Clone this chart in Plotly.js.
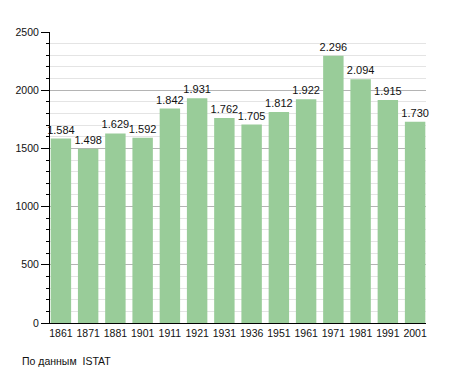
<!DOCTYPE html>
<html>
<head>
<meta charset="utf-8">
<script src="https://cdn.plot.ly/plotly-3.0.1.min.js"></script>
<style>html,body{margin:0;padding:0;background:#fff}#chart{width:455px;height:373px}</style>
</head>
<body>
<div id="chart"></div>
<script>
const years = ['1861','1871','1881','1901','1911','1921','1931','1936','1951','1961','1971','1981','1991','2001'];
const population = [1584,1498,1629,1592,1842,1931,1762,1705,1812,1922,2296,2094,1915,1730];
const sourceNote = 'По данным  ISTAT';

const trace = {
  type: 'bar',
  x: years,
  y: population,
  marker: {color: '#99cc99'},
  texttemplate: '%{y:,.0f}',
  textposition: 'outside',
  constraintext: 'none',
  cliponaxis: false,
  textfont: {family: 'Liberation Sans, Arial, sans-serif', size: 11, color: '#111'},
  hoverinfo: 'skip'
};

const layout = {
  width: 455, height: 373,
  margin: {l: 50, r: 29, t: 32, b: 50},
  paper_bgcolor: '#fff', plot_bgcolor: '#fff',
  separators: ',.',
  showlegend: false,
  bargap: 0.25,
  font: {family: 'Liberation Sans, Arial, sans-serif', size: 10, color: '#111'},
  xaxis: {
    type: 'category',
    range: [-0.4, 13.4],
    showline: true, linecolor: '#000', linewidth: 1,
    ticks: '', showgrid: false,
    tickfont: {size: 10.5}
  },
  yaxis: {
    range: [0, 2500],
    dtick: 500, tickformat: 'd',
    showline: true, linecolor: '#000', linewidth: 1,
    ticks: 'outside', ticklen: 8, tickcolor: '#000',
    gridcolor: '#b4b4b4', gridwidth: 1,
    zeroline: false,
    tickfont: {size: 10.5},
    minor: {dtick: 100, ticks: 'outside', ticklen: 3, tickcolor: '#000', showgrid: true, gridcolor: '#e4e4e4', gridwidth: 1}
  },
  annotations: [{
    text: sourceNote, xref: 'paper', yref: 'paper',
    x: -50/376, y: -38/291, xanchor: 'left', yanchor: 'middle',
    showarrow: false, xshift: 20,
    font: {size: 10.5, color: '#111'}
  }]
};

Plotly.newPlot('chart', [trace], layout, {displayModeBar: false, staticPlot: true});
</script>
</body>
</html>
